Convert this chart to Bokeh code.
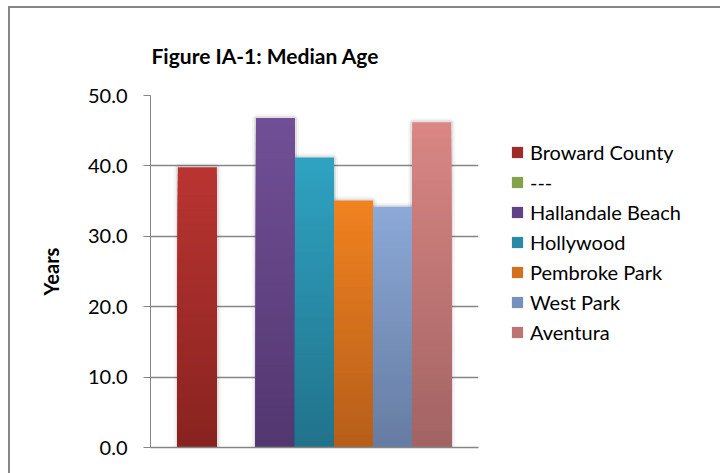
from bokeh.plotting import figure
from bokeh.models import (Range1d, FixedTicker, NumeralTickFormatter, Legend, LegendItem,
                          ColumnDataSource)
from bokeh.embed import file_html
from bokeh.resources import INLINE

# ---- data ----
series = ["Broward County", "---", "Hallandale Beach", "Hollywood",
          "Pembroke Park", "West Park", "Aventura"]
values = [39.8, None, 46.8, 41.2, 35.1, 34.2, 46.2]
top_colors = ["#B93431", "#9BBB59", "#714F96", "#2FA2C2", "#F0821F", "#8BA8D7", "#D98684"]
bottom_colors = ["#88231F", "#6F8B3E", "#523770", "#21738B", "#B65E1A", "#667CA2", "#A26463"]
y_ticks = [0, 10, 20, 30, 40, 50]
title_text = "Figure IA-1: Median Age"

FONT = "Lato"
GRAY = "#868686"


def hex2rgb(h):
    h = h.lstrip("#")
    return tuple(int(h[i:i + 2], 16) for i in (0, 2, 4))


def mix(c0, c1, t):
    a, b = hex2rgb(c0), hex2rgb(c1)
    return "#%02x%02x%02x" % tuple(int(round(a[i] + (b[i] - a[i]) * t)) for i in range(3))


p = figure(frame_width=328, frame_height=352, output_backend="svg", toolbar_location=None,
           x_range=Range1d(-1.2, 7.2), y_range=Range1d(0, 50),
           min_border_left=140, min_border_right=242, min_border_top=87, min_border_bottom=26)
p.outline_line_color = None
p.background_fill_color = "white"
p.border_fill_color = "white"
# outer chart frame: only its top and left edges fall inside the window
p.styles = {"margin-left": "8px", "margin-top": "6px",
            "border-left": "2px solid #868686", "border-top": "2px solid #868686"}

# title
p.title.text = title_text
p.title.text_font = FONT
p.title.text_font_size = "21px"
p.title.text_font_style = "bold"
p.title.text_color = "black"
p.title.align = "left"
p.title.vertical_align = "bottom"
p.title.offset = 1
p.title.standoff = 56

# bottom (category) axis: a plain line, no ticks or labels
xax = p.below[0]
xax.ticker = FixedTicker(ticks=[])
xax.major_tick_line_color = None
xax.minor_tick_line_color = None
xax.axis_line_color = GRAY
xax.axis_line_width = 1.5

# y axis
yax = p.left[0]
yax.ticker = FixedTicker(ticks=y_ticks)
yax.formatter = NumeralTickFormatter(format="0.0")
yax.major_label_text_font = FONT
yax.major_label_text_font_size = "20px"
yax.major_label_text_color = "black"
yax.major_tick_out = 7
yax.major_tick_in = 0
yax.minor_tick_out = 0
yax.minor_tick_in = 0
yax.major_label_standoff = 16
yax.axis_line_color = GRAY
yax.major_tick_line_color = GRAY
yax.axis_label = "Years"
yax.axis_label_text_font = FONT
yax.axis_label_text_font_size = "20px"
yax.axis_label_text_font_style = "bold"
yax.axis_label_text_color = "black"
yax.axis_label_standoff = 22

p.xgrid.grid_line_color = None
p.ygrid.ticker = FixedTicker(ticks=y_ticks)
p.ygrid.grid_line_color = GRAY
p.ygrid.grid_line_width = 1.5

# soft shadows behind the bars
sl, sr, st = [], [], []
for i, v in enumerate(values):
    if v:
        sl.append(i - 0.5); sr.append(i + 0.5); st.append(v)
p.quad(left=sl, right=sr, bottom=[0] * len(st), top=st, fill_alpha=0,
       line_color="black", line_alpha=0.04, line_width=8)
p.quad(left=sl, right=sr, bottom=[0] * len(st), top=st, fill_alpha=0,
       line_color="black", line_alpha=0.08, line_width=4)

# gradient bars: overlapping slices, drawn from the top colour downwards
N = 40
items = []
for i, (name, v) in enumerate(zip(series, values)):
    h = v if v else 0.0
    left, right, bottom, top, col = [], [], [], [], []
    for k in range(N - 1, -1, -1):
        left.append(i - 0.5)
        right.append(i + 0.5)
        bottom.append(0.0)
        top.append(h * (k + 1) / N)
        col.append(mix(bottom_colors[i], top_colors[i], k / (N - 1)))
    src = ColumnDataSource(dict(left=left, right=right, bottom=bottom, top=top, color=col))
    r = p.quad(left="left", right="right", bottom="bottom", top="top", source=src,
               fill_color="color", line_color=None)
    items.append(LegendItem(label=name, renderers=[r], index=N // 2))

legend = Legend(items=items, location=(32, 100))
legend.label_text_font = FONT
legend.label_text_font_size = "20px"
legend.label_text_color = "black"
legend.glyph_width = 14
legend.glyph_height = 14
legend.label_standoff = 6
legend.label_height = 30
legend.spacing = 0
legend.padding = 0
legend.margin = 0
legend.border_line_alpha = 0
legend.background_fill_alpha = 0
p.add_layout(legend, "right")

open("out.html", "w").write(file_html(p, INLINE))
